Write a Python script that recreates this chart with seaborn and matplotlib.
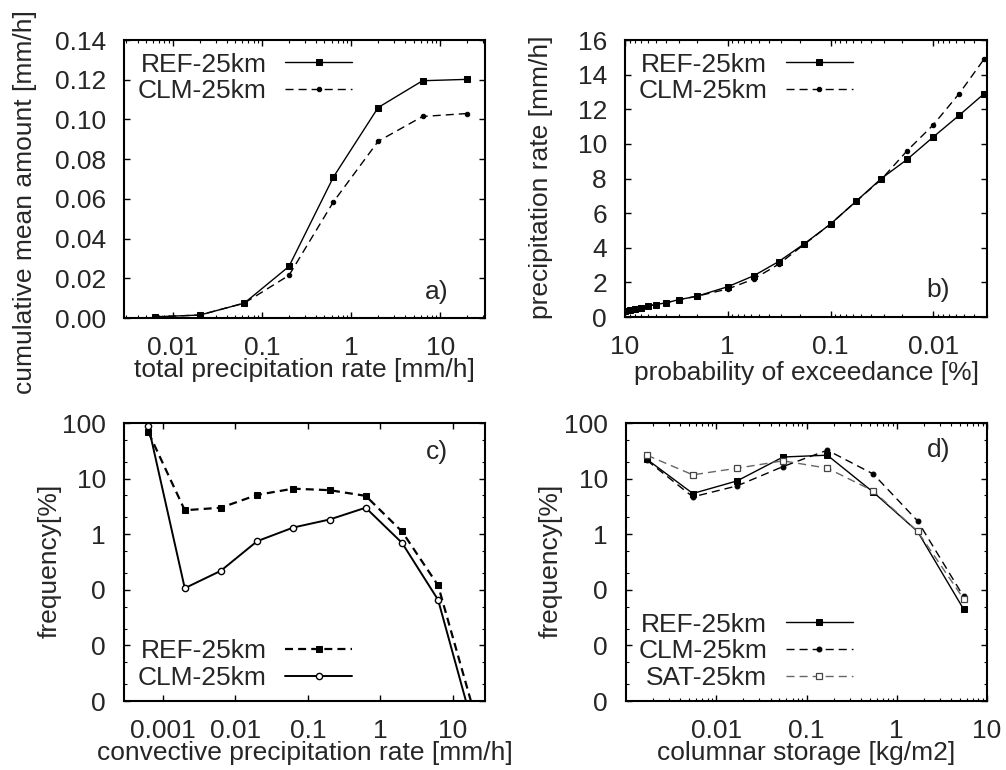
import numpy as np
import pandas as pd
import matplotlib
matplotlib.use('Agg')
import matplotlib.pyplot as plt
import matplotlib.ticker as mticker
import seaborn as sns

# --- data ---
# a) cumulative mean amount vs total precipitation rate
rate_a = [0.0063, 0.02, 0.063, 0.2, 0.63, 2, 6.3, 20]
ref_a = [0.0006, 0.0015, 0.0075, 0.026, 0.071, 0.106, 0.1195, 0.1202]
clm_a = [0.0006, 0.0015, 0.0075, 0.0215, 0.0585, 0.089, 0.1015, 0.103]

# b) precipitation rate vs probability of exceedance
prob_b = [10, 9, 8, 7, 6, 5, 4, 3, 2, 1, 0.56, 0.32, 0.18, 0.1,
          0.056, 0.032, 0.018, 0.01, 0.0056, 0.0032]
ref_b = [0.32, 0.38, 0.46, 0.53, 0.63, 0.72, 0.82, 1.0, 1.2, 1.75, 2.38, 3.2,
         4.23, 5.37, 6.7, 8.0, 9.1, 10.4, 11.65, 12.9]
clm_b = [0.32, 0.38, 0.46, 0.53, 0.63, 0.72, 0.82, 1.0, 1.2, 1.62, 2.19, 3.05,
         4.2, 5.37, 6.7, 7.95, 9.6, 11.1, 12.9, 14.9]

# c) frequency vs convective precipitation rate
rate_c = [0.00063, 0.002, 0.0063, 0.02, 0.063, 0.2, 0.63, 2, 6.3, 20]
ref_c = [68, 2.7, 3.0, 5.1, 6.6, 6.2, 4.9, 1.12, 0.12, 0.0006]
clm_c = [87, 0.107, 0.22, 0.75, 1.32, 1.84, 3.0, 0.70, 0.066, 0.00028]

# d) frequency vs columnar storage
stor_d = [0.0017, 0.0055, 0.017, 0.055, 0.17, 0.55, 1.7, 5.5]
ref_d = [22.3, 5.4, 9.1, 24.5, 26.4, 5.7, 1.12, 0.045]
clm_d = [21.4, 4.7, 7.4, 16.5, 32.5, 12.1, 1.74, 0.076]
sat_d = [26.4, 11.7, 15.4, 20.9, 15.4, 6.0, 1.13, 0.069]

FS = 19

sns.set_style('ticks')
plt.rcParams['font.family'] = ['Liberation Sans', 'DejaVu Sans']
plt.rcParams['font.size'] = FS
plt.rcParams['axes.linewidth'] = 1.5
plt.rcParams['lines.linewidth'] = 1.0

fig = plt.figure(figsize=(10.06, 7.70), dpi=100)
ax_a = fig.add_axes([0.1233, 0.587, 0.3588, 0.361])
ax_b = fig.add_axes([0.6213, 0.5883, 0.3598, 0.3597])
ax_c = fig.add_axes([0.1233, 0.0896, 0.3588, 0.361])
ax_d = fig.add_axes([0.6223, 0.0896, 0.3588, 0.361])

dash = (0, (5.8, 3.6))


def style_axes(ax):
    ax.tick_params(which='both', direction='in', top=True, right=True,
                   color='black', labelsize=FS, pad=13)
    ax.tick_params(which='major', length=4.5, width=1.0)
    ax.tick_params(which='minor', length=2.5, width=0.8)
    for s in ax.spines.values():
        s.set_color('black')
        s.set_linewidth(1.5)


def legend(ax, loc, anchor):
    ax.legend(loc=loc, bbox_to_anchor=anchor, frameon=False, markerfirst=False,
              handlelength=2.55, handletextpad=0.7, labelspacing=0.1,
              borderpad=0, borderaxespad=0, numpoints=1, fontsize=FS)


# ---- a) ----
sns.lineplot(x=rate_a, y=ref_a, ax=ax_a, label='REF-25km', color='black',
             marker='s', markersize=4.5, markeredgecolor='black', lw=1.0)
sns.lineplot(x=rate_a, y=clm_a, ax=ax_a, label='CLM-25km', color='black',
             marker='o', markersize=3.2, markeredgecolor='black', lw=1.0,
             linestyle=dash)
ax_a.set_xscale('log')
ax_a.set_xlim(10 ** -2.55, 10 ** 1.5)
ax_a.set_ylim(0, 0.14)
ax_a.yaxis.set_major_locator(mticker.MultipleLocator(0.02))
ax_a.yaxis.set_major_formatter(mticker.FormatStrFormatter('%.2f'))
ax_a.xaxis.set_major_locator(mticker.FixedLocator([0.01, 0.1, 1, 10]))
ax_a.xaxis.set_major_formatter(mticker.FixedFormatter(['0.01', '0.1', '1', '10']))
ax_a.xaxis.set_minor_locator(mticker.LogLocator(base=10, subs=np.arange(2, 10)))
ax_a.xaxis.set_minor_formatter(mticker.NullFormatter())
ax_a.set_xlabel('total precipitation rate [mm/h]')
ax_a.set_ylabel('cumulative mean amount [mm/h]')
ax_a.yaxis.set_label_coords(-0.241, 0.417)
ax_a.xaxis.set_label_coords(0.5, -0.145)
ax_a.text(0.898, 0.094, 'a)', transform=ax_a.transAxes, ha='right', va='center')
style_axes(ax_a)
legend(ax_a, 'upper right', (0.632, 0.955))

# ---- b) ----
sns.lineplot(x=prob_b, y=ref_b, ax=ax_b, label='REF-25km', color='black',
             marker='s', markersize=4.5, markeredgecolor='black', lw=1.0, sort=False)
sns.lineplot(x=prob_b, y=clm_b, ax=ax_b, label='CLM-25km', color='black',
             marker='o', markersize=3.2, markeredgecolor='black', lw=1.0,
             linestyle=dash, sort=False)
ax_b.set_xscale('log')
ax_b.set_xlim(10, 0.003)
ax_b.set_ylim(0, 16)
ax_b.yaxis.set_major_locator(mticker.MultipleLocator(2))
ax_b.xaxis.set_major_locator(mticker.FixedLocator([10, 1, 0.1, 0.01]))
ax_b.xaxis.set_major_formatter(mticker.FixedFormatter(['10', '1', '0.1', '0.01']))
ax_b.xaxis.set_minor_locator(mticker.LogLocator(base=10, subs=np.arange(2, 10)))
ax_b.xaxis.set_minor_formatter(mticker.NullFormatter())
ax_b.set_xlabel('probability of exceedance [%]')
ax_b.set_ylabel('precipitation rate [mm/h]')
ax_b.yaxis.set_label_coords(-0.199, 0.505)
ax_b.xaxis.set_label_coords(0.5, -0.16)
ax_b.text(0.898, 0.097, 'b)', transform=ax_b.transAxes, ha='right', va='center')
style_axes(ax_b)
legend(ax_b, 'upper right', (0.63, 0.955))

# ---- c) ----
sns.lineplot(x=rate_c, y=ref_c, ax=ax_c, label='REF-25km', color='black',
             marker='s', markersize=4.2, markeredgecolor='black', lw=1.6,
             linestyle=(0, (3.6, 2.3)))
sns.lineplot(x=rate_c, y=clm_c, ax=ax_c, label='CLM-25km', color='black',
             marker='o', markersize=4.5, markerfacecolor='white',
             markeredgecolor='black', markeredgewidth=1.0, lw=1.4)

yt = [0.001, 0.01, 0.1, 1, 10, 100]
ytl = ['0', '0', '0', '1', '10', '100']
for ax, xt, xtl in [(ax_c, [0.001, 0.01, 0.1, 1, 10], ['0.001', '0.01', '0.1', '1', '10']),
                    (ax_d, [0.01, 0.1, 1, 10], ['0.01', '0.1', '1', '10'])]:
    ax.set_xscale('log')
    ax.set_yscale('log')
    ax.set_ylim(0.001, 100)
    ax.yaxis.set_major_locator(mticker.FixedLocator(yt))
    ax.yaxis.set_major_formatter(mticker.FixedFormatter(ytl))
    ax.yaxis.set_minor_locator(mticker.LogLocator(base=10, subs=(2, 5)))
    ax.yaxis.set_minor_formatter(mticker.NullFormatter())
    ax.xaxis.set_major_locator(mticker.FixedLocator(xt))
    ax.xaxis.set_major_formatter(mticker.FixedFormatter(xtl))
    ax.xaxis.set_minor_locator(mticker.LogLocator(base=10, subs=np.arange(2, 10)))
    ax.xaxis.set_minor_formatter(mticker.NullFormatter())
    ax.set_ylabel('frequency[%]')
    style_axes(ax)

ax_c.set_xlim(0.00029, 28)
ax_c.set_xlabel('convective precipitation rate [mm/h]')
ax_c.yaxis.set_label_coords(-0.172, 0.504)
ax_c.xaxis.set_label_coords(0.5, -0.145)
ax_c.text(0.898, 0.896, 'c)', transform=ax_c.transAxes, ha='right', va='center')
legend(ax_c, 'lower right', (0.632, 0.04))

# ---- d) ----
sns.lineplot(x=stor_d, y=ref_d, ax=ax_d, label='REF-25km', color='black',
             marker='s', markersize=5, markeredgecolor='black', lw=1.0)
sns.lineplot(x=stor_d, y=clm_d, ax=ax_d, label='CLM-25km', color='black',
             marker='o', markersize=3.5, markeredgecolor='black', lw=1.0,
             linestyle=dash)
sns.lineplot(x=stor_d, y=sat_d, ax=ax_d, label='SAT-25km', color='#666666',
             marker='s', markersize=4.5, markerfacecolor='white',
             markeredgecolor='#444444', markeredgewidth=0.9, lw=1.0,
             linestyle=dash)
ax_d.set_xlim(0.001, 10)
ax_d.set_xlabel('columnar storage [kg/m2]')
ax_d.yaxis.set_label_coords(-0.177, 0.504)
ax_d.xaxis.set_label_coords(0.5, -0.145)
ax_d.text(0.898, 0.903, 'd)', transform=ax_d.transAxes, ha='right', va='center')
legend(ax_d, 'lower right', (0.629, 0.04))

fig.savefig('out.png', dpi=100)
plt.close(fig)
